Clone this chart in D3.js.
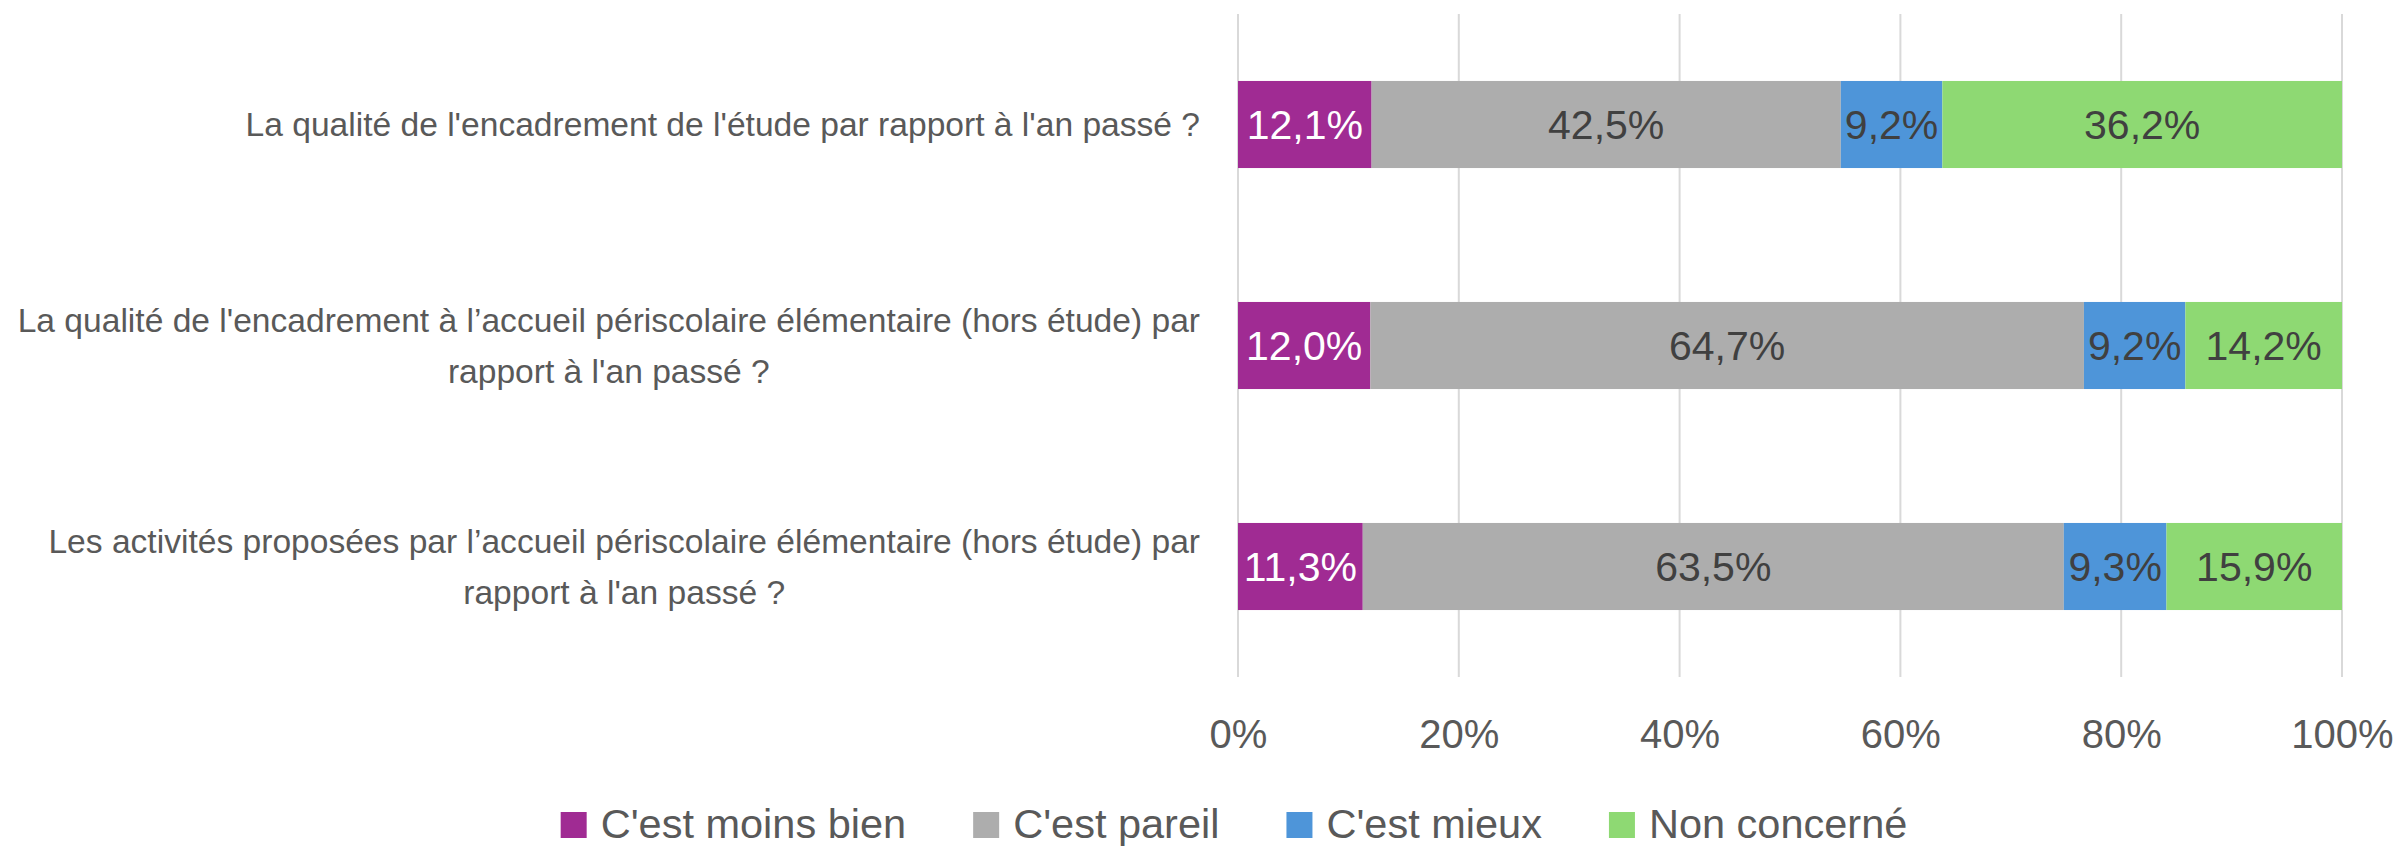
<!DOCTYPE html>
<html>
<head>
<meta charset="utf-8">
<script src="https://cdn.jsdelivr.net/npm/d3@7"></script>
<style>
  html, body { margin: 0; padding: 0; background: #ffffff; }
  svg { display: block; }
  text { font-family: "Liberation Sans", Arial, sans-serif; }
</style>
</head>
<body>
<svg id="chart" width="2402" height="848"></svg>
<script>
// ---------- data ----------
const categories = [
  "La qualité de l'encadrement de l'étude par rapport à l'an passé ?",
  "La qualité de l'encadrement à l’accueil périscolaire élémentaire (hors étude) par\nrapport à l'an passé ?",
  "Les activités proposées par l’accueil périscolaire élémentaire (hors étude) par\nrapport à l'an passé ?"
];
const seriesNames = ["C'est moins bien", "C'est pareil", "C'est mieux", "Non concerné"];
const moinsBien   = [12.1, 12.0, 11.3];
const pareil      = [42.5, 64.7, 63.5];
const mieux       = [9.2, 9.2, 9.3];
const nonConcerne = [36.2, 14.2, 15.9];
const tickValues  = [0, 0.2, 0.4, 0.6, 0.8, 1.0];
const tickLabels  = ["0%", "20%", "40%", "60%", "80%", "100%"];

const colors = ["#A02B93", "#ADADAD", "#4E95D9", "#8ED973"];
const labelColors = ["#FFFFFF", "#404040", "#404040", "#404040"];

// ---------- table ----------
const seriesArrays = [moinsBien, pareil, mieux, nonConcerne];
const rows = categories.map((c, i) => {
  const r = { cat: c };
  seriesNames.forEach((s, j) => r[s] = seriesArrays[j][i]);
  return r;
});

// ---------- layout ----------
const svg = d3.select("#chart");
const plot = { left: 1238, right: 2342, top: 14, bottom: 677 };

const x = d3.scaleLinear().domain([0, 1]).range([plot.left, plot.right]);
const y = d3.scaleBand().domain(categories).range([plot.top, plot.bottom]).paddingInner(0.606).paddingOuter(0.303);

// gridlines
svg.append("g").selectAll("line").data(tickValues).join("line")
  .attr("x1", d => x(d)).attr("x2", d => x(d))
  .attr("y1", plot.top).attr("y2", plot.bottom)
  .attr("stroke", "#D9D9D9").attr("stroke-width", 2);

// stacked bars (100% stacked)
const stack = d3.stack().keys(seriesNames).offset(d3.stackOffsetExpand);
const stacked = stack(rows);

const fmt = v => d3.format(".1f")(v).replace(".", ",") + "%";

const layers = svg.append("g").selectAll("g").data(stacked).join("g")
  .attr("fill", (d, i) => colors[i]);
layers.selectAll("rect").data(d => d.map(p => ({ p, key: d.key }))).join("rect")
  .attr("x", d => x(d.p[0]))
  .attr("width", d => x(d.p[1]) - x(d.p[0]))
  .attr("y", d => y(d.p.data.cat))
  .attr("height", y.bandwidth());

// data labels
const lbl = svg.append("g").selectAll("g").data(stacked).join("g")
  .attr("fill", (d, i) => labelColors[i]);
lbl.selectAll("text").data(d => d.map(p => ({ p, key: d.key }))).join("text")
  .attr("x", d => (x(d.p[0]) + x(d.p[1])) / 2)
  .attr("y", d => y(d.p.data.cat) + y.bandwidth() / 2)
  .attr("dy", "0.36em")
  .attr("text-anchor", "middle")
  .attr("font-size", 41)
  .text(d => fmt(d.p.data[d.key]));

// x axis
const xAxis = d3.axisBottom(x).tickValues(tickValues)
  .tickFormat((d, i) => tickLabels[i]).tickSize(0).tickPadding(43);
const gx = svg.append("g").attr("transform", `translate(0,${plot.bottom})`).call(xAxis);
gx.select(".domain").remove();
gx.selectAll("text").attr("font-size", 40).attr("fill", "#595959")
  .attr("font-family", "Liberation Sans, Arial, sans-serif");

// category labels
const catG = svg.append("g");
categories.forEach(c => {
  const lines = c.split("\n");
  const lh = 50.5;
  const cy = y(c) + y.bandwidth() / 2;
  const t = catG.append("text")
    .attr("font-size", 33.6).attr("fill", "#595959")
    .attr("text-anchor", "middle");
  lines.forEach((ln, i) => {
    t.append("tspan").attr("x", 0)
      .attr("y", cy + (i - (lines.length - 1) / 2) * lh)
      .attr("dy", "0.35em").text(ln);
  });
  const w = t.node().getBBox().width;
  t.selectAll("tspan").attr("x", 1200 - w / 2);
});

// legend
const leg = svg.append("g");
let cx = 0;
seriesNames.forEach((s, i) => {
  const g = leg.append("g").attr("transform", `translate(${cx},0)`);
  g.append("rect").attr("x", 0).attr("y", 812).attr("width", 26).attr("height", 26).attr("fill", colors[i]);
  const t = g.append("text").attr("x", 40).attr("y", 838).attr("font-size", 41.5).attr("fill", "#595959").text(s);
  const w = t.node().getComputedTextLength();
  cx += 40 + w + 67;
});
const totalW = cx - 67;
leg.attr("transform", `translate(${1234 - totalW / 2},0)`);
</script>
</body>
</html>
